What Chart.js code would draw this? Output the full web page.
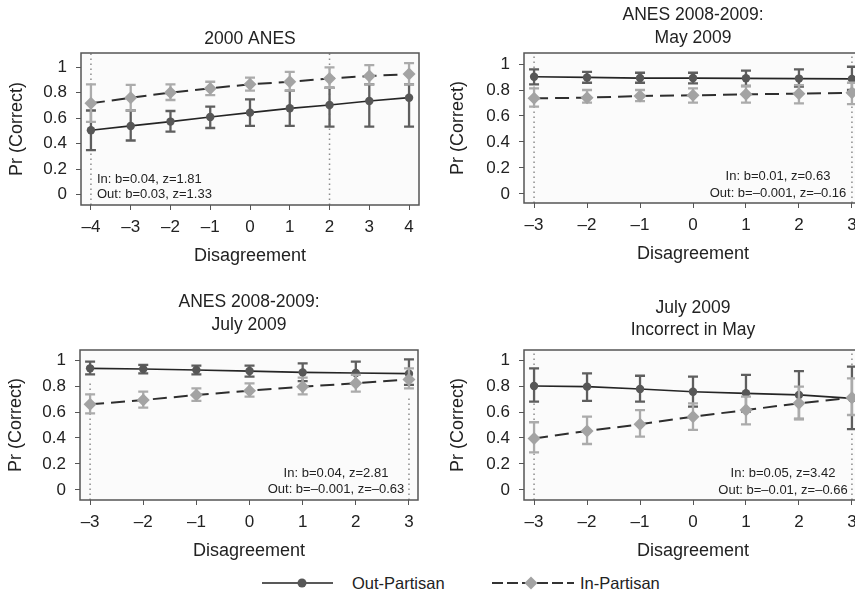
<!DOCTYPE html>
<html>
<head>
<meta charset="utf-8">
<script src="https://cdn.jsdelivr.net/npm/chart.js@4.4.1/dist/chart.umd.min.js"></script>
<style>
  html, body { margin: 0; padding: 0; background: #fff; }
  body { width: 855px; height: 602px; overflow: hidden; position: relative; }
  canvas { position: absolute; }
  #legend { position: absolute; left: 0; top: 563px; font-family: "Liberation Sans", Arial, sans-serif; }
</style>
</head>
<body>
<canvas id="p1"></canvas>
<canvas id="p2"></canvas>
<canvas id="p3"></canvas>
<canvas id="p4"></canvas>
<svg id="legend" width="855" height="40">
  <line x1="262" y1="20" x2="333" y2="20" stroke="#222" stroke-width="1.6"/>
  <circle cx="302" cy="20" r="4.5" fill="#575757"/>
  <text x="352" y="26" font-size="16.5" fill="#222">Out-Partisan</text>
  <line x1="492" y1="20" x2="574" y2="20" stroke="#333" stroke-width="2" stroke-dasharray="11 4"/>
  <polygon points="531,13.5 537.5,20 531,26.5 524.5,20" fill="#a3a3a3"/>
  <text x="580" y="26" font-size="16.5" fill="#222">In-Partisan</text>
</svg>
<script>
// categories (disagreement levels)
const xCats9 = [-4, -3, -2, -1, 0, 1, 2, 3, 4];
const xCats7 = [-3, -2, -1, 0, 1, 2, 3];
const yTicks = [0, 0.2, 0.4, 0.6, 0.8, 1];

// 2000 ANES
const p1Title = ['2000 ANES'];
const p1Out   = [0.505, 0.539, 0.573, 0.609, 0.643, 0.677, 0.703, 0.734, 0.760];
const p1OutLo = [0.350, 0.425, 0.495, 0.523, 0.539, 0.539, 0.534, 0.534, 0.534];
const p1OutHi = [0.660, 0.660, 0.656, 0.690, 0.747, 0.815, 0.838, 0.865, 0.865];
const p1In    = [0.716, 0.760, 0.800, 0.833, 0.865, 0.885, 0.911, 0.930, 0.945];
const p1InLo  = [0.570, 0.660, 0.742, 0.780, 0.815, 0.815, 0.838, 0.865, 0.865];
const p1InHi  = [0.865, 0.860, 0.865, 0.885, 0.917, 0.963, 0.997, 1.015, 1.030];
const p1Notes = ['In: b=0.04, z=1.81', 'Out: b=0.03, z=1.33'];
const p1RefX = [-4, 2];
const p1RefTop = [null, null];

// ANES 2008-2009: May 2009
const p2Title = ['ANES 2008-2009:', 'May 2009'];
const p2Out   = [0.902, 0.897, 0.892, 0.892, 0.890, 0.888, 0.885];
const p2OutLo = [0.844, 0.856, 0.856, 0.851, 0.831, 0.826, 0.800];
const p2OutHi = [0.959, 0.940, 0.933, 0.933, 0.949, 0.959, 0.979];
const p2In    = [0.736, 0.741, 0.754, 0.759, 0.767, 0.772, 0.779];
const p2InLo  = [0.672, 0.703, 0.715, 0.703, 0.703, 0.697, 0.692];
const p2InHi  = [0.813, 0.800, 0.800, 0.813, 0.831, 0.838, 0.856];
const p2Notes = ['In: b=0.01, z=0.63', 'Out: b=\u20130.001, z=\u20130.16'];
const p2RefX = [-3, 3];
const p2RefTop = [null, null];

// ANES 2008-2009: July 2009
const p3Title = ['ANES 2008-2009:', 'July 2009'];
const p3Out   = [0.936, 0.931, 0.923, 0.915, 0.905, 0.900, 0.895];
const p3OutLo = [0.890, 0.897, 0.890, 0.872, 0.838, 0.821, 0.808];
const p3OutHi = [0.987, 0.962, 0.957, 0.957, 0.974, 0.987, 1.005];
const p3In    = [0.659, 0.692, 0.731, 0.764, 0.795, 0.821, 0.851];
const p3InLo  = [0.590, 0.633, 0.685, 0.718, 0.736, 0.756, 0.782];
const p3InHi  = [0.736, 0.756, 0.782, 0.821, 0.864, 0.885, 0.936];
const p3Notes = ['In: b=0.04, z=2.81', 'Out: b=\u20130.001, z=\u20130.63'];
const p3RefX = [-3, 3];
const p3RefTop = [0.82, 0.72];

// July 2009, incorrect in May
const p4Title = ['July 2009', 'Incorrect in May'];
const p4Out   = [0.800, 0.795, 0.777, 0.756, 0.744, 0.731, 0.705];
const p4OutLo = [0.680, 0.685, 0.680, 0.641, 0.603, 0.546, 0.469];
const p4OutHi = [0.936, 0.897, 0.879, 0.872, 0.885, 0.915, 0.949];
const p4In    = [0.397, 0.454, 0.505, 0.564, 0.615, 0.667, 0.710];
const p4InLo  = [0.290, 0.354, 0.410, 0.462, 0.505, 0.546, 0.577];
const p4InHi  = [0.521, 0.564, 0.615, 0.667, 0.718, 0.795, 0.859];
const p4Notes = ['In: b=0.05, z=3.42', 'Out: b=\u20130.01, z=\u20130.66'];
const p4RefX = [-3, 3];
const p4RefTop = [null, null];

const FONT = '"Liberation Sans", Arial, Helvetica, sans-serif';
const DARK = '#575757', DARK_BAR = '#5e5e5e';
const GRAY = '#a3a3a3', GRAY_BAR = '#ababab';

function fmt(v) {
  const r = Math.round(v * 10) / 10;
  return r < 0 ? '\u2013' + Math.abs(r) : String(r);
}

function pts(xs, ys) {
  return xs.map((x, i) => ({ x: x, y: ys[i] }));
}

function drawBars(chart, xs, lo, hi, color) {
  const { ctx, scales: { x, y }, chartArea: a } = chart;
  ctx.save();
  ctx.beginPath();
  ctx.rect(a.left, a.top, a.width, a.height);
  ctx.clip();
  ctx.strokeStyle = color;
  ctx.lineWidth = 2.3;
  xs.forEach((xv, i) => {
    const px = x.getPixelForValue(xv);
    const y1 = y.getPixelForValue(lo[i]);
    const y2 = y.getPixelForValue(hi[i]);
    ctx.beginPath();
    ctx.moveTo(px, y1); ctx.lineTo(px, y2);
    ctx.moveTo(px - 5, y1); ctx.lineTo(px + 5, y1);
    ctx.moveTo(px - 5, y2); ctx.lineTo(px + 5, y2);
    ctx.stroke();
  });
  ctx.restore();
}

const panelDecor = {
  id: 'panelDecor',
  beforeDraw(chart) {
    const { ctx, chartArea: a } = chart;
    ctx.save();
    ctx.fillStyle = '#fbfbfb';
    ctx.fillRect(a.left, a.top, a.width, a.height);
    ctx.restore();
  },
  afterDatasetDraw(chart, args, o) {
    // datasets drawn bottom-up: refs, out line, in line, out points, in points
    if (args.index === 2) drawBars(chart, o.xs, o.outLo, o.outHi, DARK_BAR);
    if (args.index === 1) drawBars(chart, o.xs, o.inLo, o.inHi, GRAY_BAR);
  },
  afterDraw(chart, args, o) {
    const { ctx, chartArea: a } = chart;
    ctx.save();
    ctx.strokeStyle = '#555';
    ctx.lineWidth = 1.5;
    ctx.strokeRect(a.left, a.top, a.width, a.height);
    ctx.fillStyle = '#222';
    ctx.textBaseline = 'middle';
    ctx.textAlign = 'center';
    ctx.font = '17.5px ' + FONT;
    const cx = (a.left + a.right) / 2;
    o.title.forEach((t, i) => ctx.fillText(t, cx, a.top + o.titleDy[i]));
    ctx.font = '13px ' + FONT;
    ctx.textAlign = o.noteAlign;
    o.notes.forEach((t, i) => ctx.fillText(t, a.left + o.noteX, a.bottom + o.noteDy[i]));
    ctx.restore();
  }
};

const panels = [
  { id: 'p1', box: { l: 81, t: 53, r: 419, b: 205 }, xMin: -4.25, xMax: 4.25, yMin: -0.08, yMax: 1.11,
    xs: xCats9, out: p1Out, outLo: p1OutLo, outHi: p1OutHi, inn: p1In, inLo: p1InLo, inHi: p1InHi,
    title: p1Title, titleDy: [-13.5], notes: p1Notes, noteAlign: 'left', noteX: 16, noteDy: [-26, -11],
    refX: p1RefX, refTop: p1RefTop, yPad: 5 },
  { id: 'p2', box: { l: 524, t: 53, r: 862, b: 203 }, xMin: -3.19, xMax: 3.19, yMin: -0.07, yMax: 1.085,
    xs: xCats7, out: p2Out, outLo: p2OutLo, outHi: p2OutHi, inn: p2In, inLo: p2InLo, inHi: p2InHi,
    title: p2Title, titleDy: [-37.5, -15], notes: p2Notes, noteAlign: 'center', noteX: 254, noteDy: [-27, -10],
    refX: p2RefX, refTop: p2RefTop, yPad: 3 },
  { id: 'p3', box: { l: 80, t: 350, r: 418, b: 500 }, xMin: -3.19, xMax: 3.17, yMin: -0.077, yMax: 1.077,
    xs: xCats7, out: p3Out, outLo: p3OutLo, outHi: p3OutHi, inn: p3In, inLo: p3InLo, inHi: p3InHi,
    title: p3Title, titleDy: [-47.5, -24.5], notes: p3Notes, noteAlign: 'center', noteX: 256, noteDy: [-27, -10.5],
    refX: p3RefX, refTop: p3RefTop, yPad: 5 },
  { id: 'p4', box: { l: 524, t: 350, r: 862, b: 500 }, xMin: -3.19, xMax: 3.19, yMin: -0.077, yMax: 1.077,
    xs: xCats7, out: p4Out, outLo: p4OutLo, outHi: p4OutHi, inn: p4In, inLo: p4InLo, inHi: p4InHi,
    title: p4Title, titleDy: [-41.5, -19.5], notes: p4Notes, noteAlign: 'center', noteX: 259, noteDy: [-27, -10],
    refX: p4RefX, refTop: p4RefTop, yPad: 3 }
];

const PAD_TOP = 60, PAD_RIGHT = 8, Y_W = 80, X_H = 63;

panels.forEach(p => {
  const cv = document.getElementById(p.id);
  const w = p.box.r - p.box.l + Y_W + PAD_RIGHT;
  const h = p.box.b - p.box.t + PAD_TOP + X_H;
  cv.width = w; cv.height = h;
  cv.style.left = (p.box.l - Y_W) + 'px';
  cv.style.top = (p.box.t - PAD_TOP) + 'px';

  const refSets = p.refX.map((rx, i) => ({
    data: [{ x: rx, y: p.yMin }, { x: rx, y: p.refTop[i] == null ? p.yMax : p.refTop[i] }],
    borderColor: '#8c8c8c', borderWidth: 1.5, borderDash: [1.5, 3.5], pointRadius: 0
  }));

  new Chart(cv, {
    type: 'line',
    data: {
      datasets: [
        { data: pts(p.xs, p.inn), showLine: false, pointStyle: 'rectRot', pointRadius: 6.5,
          pointBackgroundColor: GRAY, pointBorderWidth: 0 },
        { data: pts(p.xs, p.out), showLine: false, pointStyle: 'circle', pointRadius: 4.2,
          pointBackgroundColor: DARK, pointBorderWidth: 0 },
        { data: pts(p.xs, p.inn), borderColor: '#2e2e2e', borderWidth: 2, borderDash: [14, 7], pointRadius: 0 },
        { data: pts(p.xs, p.out), borderColor: '#252525', borderWidth: 1.7, pointRadius: 0 },
        ...refSets
      ]
    },
    options: {
      responsive: false,
      animation: false,
      events: [],
      layout: { padding: { top: PAD_TOP, right: PAD_RIGHT, left: 0, bottom: 0 } },
      plugins: {
        legend: { display: false },
        tooltip: { enabled: false },
        panelDecor: {
          xs: p.xs, outLo: p.outLo, outHi: p.outHi, inLo: p.inLo, inHi: p.inHi,
          title: p.title, titleDy: p.titleDy, notes: p.notes, noteAlign: p.noteAlign,
          noteX: p.noteX, noteDy: p.noteDy
        }
      },
      scales: {
        x: {
          type: 'linear', min: p.xMin, max: p.xMax,
          afterBuildTicks: s => { s.ticks = p.xs.map(v => ({ value: v })); },
          afterFit: s => { s.height = X_H; },
          border: { display: false },
          grid: { drawOnChartArea: false, drawTicks: true, tickLength: 5, color: '#555', lineWidth: 1 },
          ticks: { autoSkip: false, maxRotation: 0, padding: 7, color: '#222',
                   font: { family: FONT, size: 17 }, callback: v => fmt(v) },
          title: { display: true, text: 'Disagreement', color: '#222',
                   font: { family: FONT, size: 18 }, padding: { top: 0, bottom: 1 } }
        },
        y: {
          min: p.yMin, max: p.yMax,
          afterBuildTicks: s => { s.ticks = yTicks.map(v => ({ value: v })); },
          afterFit: s => { s.width = Y_W; },
          border: { display: false },
          grid: { drawOnChartArea: false, drawTicks: true, tickLength: 5, color: '#555', lineWidth: 1 },
          ticks: { padding: 9, color: '#222', font: { family: FONT, size: 17 }, callback: v => fmt(v) },
          title: { display: true, text: 'Pr (Correct)', color: '#222',
                   font: { family: FONT, size: 18 }, padding: { top: p.yPad, bottom: 0 } }
        }
      }
    },
    plugins: [panelDecor]
  });
});
</script>
</body>
</html>
